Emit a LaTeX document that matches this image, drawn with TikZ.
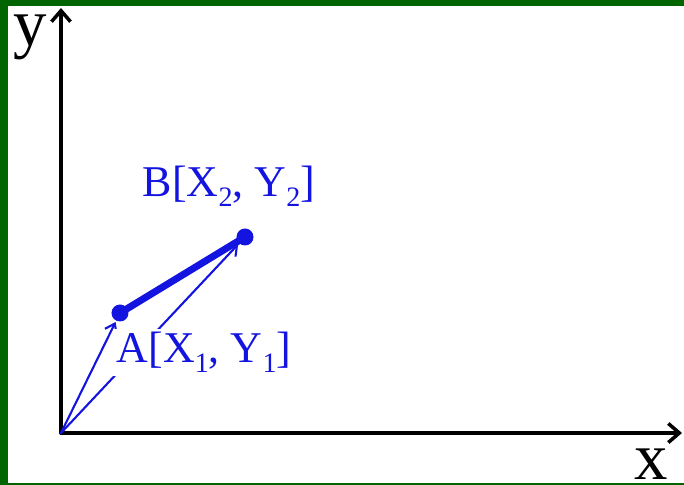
\documentclass[tikz,border=0pt]{standalone}
\usepackage{fontspec}
\setmainfont{Liberation Serif}
\usetikzlibrary{arrows.meta}
\definecolor{frame}{RGB}{0,100,0}
\definecolor{vec}{RGB}{20,20,225}
\newcommand{\idx}[1]{\raisebox{-0.45ex}{\fontsize{8}{9}\selectfont #1}}
\begin{document}
\begin{tikzpicture}[line cap=round,>={Straight Barb[length=1.1mm,width=1.9mm]}]
  \useasboundingbox (-0.61,-0.52) rectangle (6.23,4.33);
  % frame
  \fill[frame] (-0.61,4.27) rectangle (6.23,4.33);
  \fill[frame] (-0.61,-0.52) rectangle (-0.53,4.33);
  \fill[frame] (-0.61,-0.52) rectangle (6.23,-0.50);
  \coordinate (O) at (0,0);
  \coordinate (xend) at (6.21,0);
  \coordinate (yend) at (0,4.25);
  \coordinate (A) at (0.59,1.20);
  \coordinate (B) at (1.84,1.96);
  % axes
  \draw[line width=1pt, ->] (O) -- (xend);
  \draw[line width=1pt, ->] (O) -- (yend);
  \node[anchor=base, inner sep=0pt, font=\fontsize{19}{23}\selectfont] (ylab) at (-0.31,3.87) {y};
  \node[anchor=base, inner sep=0pt, font=\fontsize{19}{23}\selectfont] (xlab) at (5.90,-0.47) {x};
  % vectors
  \draw[vec, line width=0.6pt, -{Straight Barb[length=0.9mm,width=1.3mm]}, shorten >=0.1cm] (O) -- (A);
  \draw[vec, line width=0.6pt, -{Straight Barb[length=0.9mm,width=1.3mm]}, shorten >=0.1cm] (O) -- (B);
  \node[anchor=base, vec, fill=white, inner sep=1pt, font=\fontsize{12.5}{15}\selectfont] (Alab) at (1.43,0.70) {A[X\idx{1}, Y\idx{1}]};
  \node[anchor=base, vec, font=\fontsize{12.5}{15}\selectfont] (Blab) at (1.68,2.36) {B[X\idx{2}, Y\idx{2}]};
  \draw[vec, line width=2pt] (A) -- (B);
  \fill[vec] (A) circle (0.085);
  \fill[vec] (B) circle (0.085);
\end{tikzpicture}
\end{document}
